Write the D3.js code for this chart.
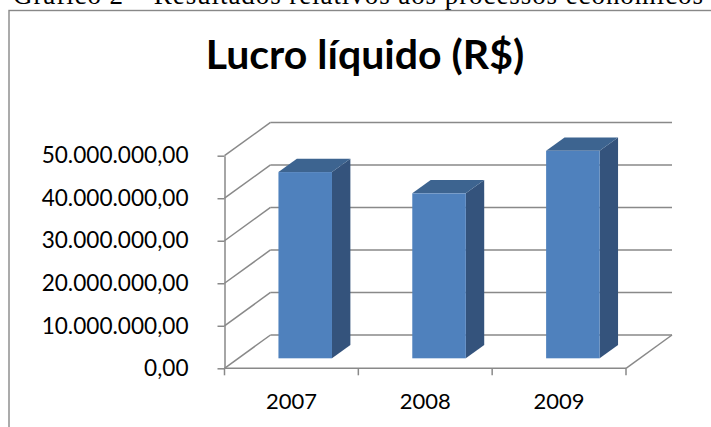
<!DOCTYPE html>
<html>
<head>
<meta charset="utf-8">
<script src="https://cdn.jsdelivr.net/npm/d3@7"></script>
<style>
  body { margin: 0; background: #fff; }
  svg { display: block; }
</style>
</head>
<body>
<script>
// data
var years = ['2007', '2008', '2009'];
var lucro = [43800000, 38800000, 48800000];
var yTicks = [0, 10000000, 20000000, 30000000, 40000000, 50000000];

var W = 711, H = 427;
var depth = { dx: 46, dy: -33.3 };   // 3d offset of the back wall
var barFront = 0.3, barBack = 0.7;   // bar depth as fraction of full depth

var svg = d3.select('body').append('svg')
  .attr('width', W)
  .attr('height', H);

var br = d3.formatLocale({ decimal: ',', thousands: '.', grouping: [3], currency: ['R$', ''] });
var fmt = br.format(',.2f');

var x = d3.scaleBand().domain(years).range([224.5, 626]).padding(0);
var y = d3.scaleLinear().domain([0, 50000000]).range([368.3, 155.7]);

var x0 = x.range()[0], x1 = x.range()[1];
var gridColor = '#898989';

// page caption, cut off at the top like the scan
svg.append('text')
  .attr('x', 13).attr('y', 3.5)
  .attr('textLength', 690)
  .style('font-family', '"Liberation Serif", "Times New Roman", serif')
  .style('font-size', '27px')
  .style('fill', '#000')
  .text('Gráfico 2 – Resultados relativos aos processos econômicos');

// chart frame
svg.append('rect')
  .attr('x', 9).attr('y', 10.5)
  .attr('width', 800).attr('height', 500)
  .style('fill', 'none')
  .style('stroke', '#888')
  .style('stroke-width', 1.4);

// title
svg.append('text')
  .attr('x', 365).attr('y', 69)
  .attr('text-anchor', 'middle')
  .style('font-family', 'Lato, "Open Sans", sans-serif')
  .style('font-weight', 'bold')
  .style('font-size', '41px')
  .text('Lucro líquido (R$)');

var walls = svg.append('g')
  .style('stroke', gridColor)
  .style('stroke-width', 1.5)
  .style('fill', 'none');

// back wall gridlines
walls.selectAll('.back').data(yTicks).enter().append('line')
  .attr('x1', x0 + depth.dx).attr('x2', x1 + depth.dx)
  .attr('y1', function(d) { return y(d) + depth.dy; })
  .attr('y2', function(d) { return y(d) + depth.dy; });

// side wall gridlines
walls.selectAll('.side').data(yTicks).enter().append('line')
  .attr('x1', x0).attr('x2', x0 + depth.dx)
  .attr('y1', function(d) { return y(d); })
  .attr('y2', function(d) { return y(d) + depth.dy; });

// floor right edge
walls.append('line')
  .attr('x1', x1).attr('y1', y(0))
  .attr('x2', x1 + depth.dx).attr('y2', y(0) + depth.dy);

// value axis
var yAxis = svg.append('g')
  .attr('transform', 'translate(' + x0 + ',0)')
  .call(d3.axisLeft(y).tickValues(yTicks).tickFormat(fmt)
    .tickSizeInner(7).tickSizeOuter(0).tickPadding(29));
yAxis.selectAll('path, line').style('stroke', gridColor).style('stroke-width', 1.5);
yAxis.selectAll('text')
  .style('font-family', 'Lato, "Open Sans", sans-serif')
  .style('font-size', '22.6px')
  .style('fill', '#000');

// category axis
var xAxis = svg.append('g').style('stroke', gridColor).style('stroke-width', 1.5);
xAxis.append('line')
  .attr('x1', x0).attr('x2', x1)
  .attr('y1', y(0)).attr('y2', y(0));
var edges = years.map(function(d) { return x(d); }).concat([x1]);
xAxis.selectAll('.tick').data(edges).enter().append('line')
  .attr('x1', function(d) { return d; }).attr('x2', function(d) { return d; })
  .attr('y1', y(0)).attr('y2', y(0) + 7);

svg.selectAll('.cat').data(years).enter().append('text')
  .attr('x', function(d) { return x(d) + x.bandwidth() / 2; })
  .attr('y', 409)
  .attr('text-anchor', 'middle')
  .style('font-family', 'Lato, "Open Sans", sans-serif')
  .style('font-size', '22px')
  .text(function(d) { return d; });

// bars
var bw = x.bandwidth() * 0.4;
var bars = svg.selectAll('.bar').data(years).enter().append('g');

function pts(a) { return a.map(function(p) { return p.join(','); }).join(' '); }

bars.each(function(d, i) {
  var g = d3.select(this);
  var fx = x(d) + x.bandwidth() * 0.3 + depth.dx * barFront;
  var fy0 = y(0) + depth.dy * barFront;
  var fy1 = y(lucro[i]) + depth.dy * barFront;
  var ox = depth.dx * (barBack - barFront);
  var oy = depth.dy * (barBack - barFront);

  g.append('polygon')
    .attr('points', pts([[fx + bw, fy0], [fx + bw + ox, fy0 + oy], [fx + bw + ox, fy1 + oy], [fx + bw, fy1]]))
    .style('fill', '#34537c');
  g.append('polygon')
    .attr('points', pts([[fx, fy1], [fx + ox, fy1 + oy], [fx + bw + ox, fy1 + oy], [fx + bw, fy1]]))
    .style('fill', '#3d6490');
  g.append('rect')
    .attr('x', fx).attr('y', fy1)
    .attr('width', bw).attr('height', fy0 - fy1)
    .style('fill', '#4f81bd');
});
</script>
</body>
</html>
